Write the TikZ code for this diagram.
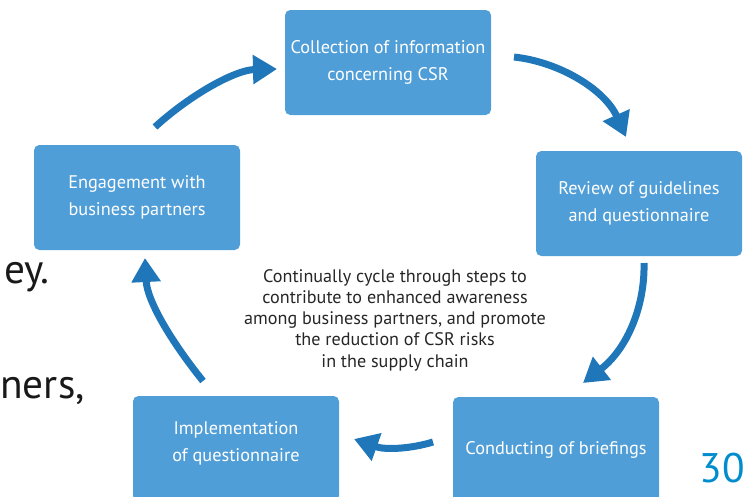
\documentclass[tikz,border=0pt]{standalone}
\usepackage{fontspec}
\setmainfont{PT Sans}
\usepackage{tikz}
\usetikzlibrary{arrows.meta}

\definecolor{boxblue}{RGB}{80,158,215}
\definecolor{arrowblue}{RGB}{31,119,185}
\definecolor{pageblue}{RGB}{0,140,205}

\begin{document}
\begin{tikzpicture}[
    x=0.75pt, y=-0.75pt,
    stepbox/.style={rectangle, rounded corners=4pt, fill=boxblue, draw=none, minimum width=154.5pt, minimum height=78.75pt, align=center, text=white, font=\fontsize{13.7}{20.25}\selectfont},
    arrow/.style={-{Triangle[length=18pt, width=21pt]}, line width=5.25pt, draw=arrowblue},
    lbl/.style={align=center, text=black!85, font=\fontsize{13.6}{15.9}\selectfont},
    edge/.style={text=black!90, font=\fontsize{31}{36}\selectfont, inner sep=0pt}
]
\useasboundingbox (0,0) rectangle (748,496);
\clip (0,0) rectangle (748,496);

% cut-off text at the page edges
\node[edge, anchor=base east] (frag1) at (50,283) {ey.};
\node[edge, anchor=base east] (frag2) at (85,398) {ners,};
\node[edge, text=pageblue, anchor=base east] (pagenum) at (745,482) {30};

\node[stepbox] (coll) at (388,62.5) {Collection of information\\concerning CSR};
\node[stepbox] (rev) at (639,203.5) {Review of guidelines\\and questionnaire};
\node[stepbox] (cond) at (556,449.5) {Conducting of briefings};
\node[stepbox, label={[stepbox, fill=none, yshift=4pt]center:Implementation\\of questionnaire}] (impl) at (236,448.5) {};
\node[stepbox] (eng) at (137,197.5) {Engagement with\\business partners};

\node[lbl] (aim) at (395,320) {Continually cycle through steps to\\contribute to enhanced awareness\\among business partners, and promote\\the reduction of CSR risks\\in the supply chain};

\coordinate (engOut) at (155,127);
\coordinate (collIn) at (277,69);
\coordinate (collOut) at (514,57);
\coordinate (revIn) at (626,137);
\coordinate (revOut) at (644,263);
\coordinate (condIn) at (583,383);
\coordinate (condOut) at (433,442);
\coordinate (implIn) at (354,439);
\coordinate (implOut) at (203,381);
\coordinate (engIn) at (145,258);

\draw[arrow] (engOut) .. controls (190,95) and (235,70) .. (collIn);
\draw[arrow] (collOut) .. controls (560,62) and (605,90) .. (revIn);
\draw[arrow] (revOut) .. controls (645,305) and (628,348) .. (condIn);
\draw[arrow] (condOut) .. controls (410,449) and (385,450) .. (implIn);
\draw[arrow] (implOut) .. controls (170,340) and (147,300) .. (engIn);
\end{tikzpicture}
\end{document}
